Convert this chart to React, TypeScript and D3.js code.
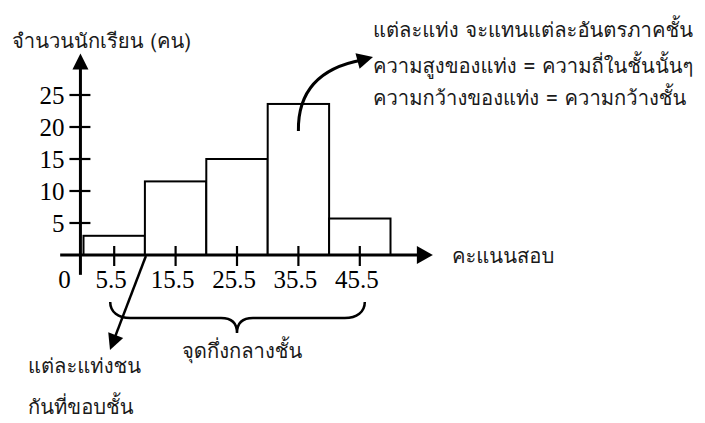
import React from 'react';
import * as d3 from 'd3';

const classLimits = [0.5, 10.5, 20.5, 30.5, 40.5, 50.5];
const frequencies = [3, 11.5, 15, 23.6, 5.7];
const midpoints = [5.5, 15.5, 25.5, 35.5, 45.5];
const yTicks = [5, 10, 15, 20, 25];
const yTitle = 'จำนวนนักเรียน (คน)';
const xTitle = 'คะแนนสอบ';
const notes = [
  'แต่ละแท่ง จะแทนแต่ละอันตรภาคชั้น',
  'ความสูงของแท่ง = ความถี่ในชั้นนั้นๆ',
  'ความกว้างของแท่ง = ความกว้างชั้น',
];
const midLabel = 'จุดกึ่งกลางชั้น';
const boundaryNote = ['แต่ละแท่งชน', 'กันที่ขอบชั้น'];

const W = 705;
const H = 423;
const THAI = "Loma, Tahoma, 'Noto Sans Thai', Garuda, sans-serif";
const SERIF = "'Liberation Serif', 'Times New Roman', serif";
const THAI_SIZE = 20.2;

function arrowHead(tipX: number, tipY: number, fromX: number, fromY: number, len: number, half: number) {
  const dx = tipX - fromX;
  const dy = tipY - fromY;
  const d = Math.sqrt(dx * dx + dy * dy);
  const ux = dx / d;
  const uy = dy / d;
  const bx = tipX - ux * len;
  const by = tipY - uy * len;
  const px = -uy;
  const py = ux;
  return `M${tipX},${tipY}L${bx + px * half},${by + py * half}L${bx - px * half},${by - py * half}Z`;
}

export default function App() {
  const x = d3.scaleLinear().domain([0.5, 50.5]).range([83.5, 390.5]);
  const y = d3.scaleLinear().domain([0, 25]).range([255, 95]);

  const axisX0 = x(0);
  const baseY = y(0);

  const bars = frequencies.map((f, i) => ({
    x0: x(classLimits[i]),
    x1: x(classLimits[i + 1]),
    y: y(f),
  }));

  const xAxisStart = x(-3.3);
  const xAxisTip = x(57.4);
  const yAxisBottom = y(-3.1);
  const yAxisTip = y(31.5);

  const bL = x(midpoints[0]) - 4;
  const bR = x(midpoints[midpoints.length - 1]) + 5;
  const bM = x(midpoints[2]);
  const bTop = 302;
  const bMid = 318;
  const bCusp = 333;
  const brace = d3.path();
  brace.moveTo(bL, bTop);
  brace.bezierCurveTo(bL, bMid - 6, bL + 8, bMid, bL + 20, bMid);
  brace.lineTo(bM - 16, bMid);
  brace.bezierCurveTo(bM - 5, bMid, bM, bMid + 5, bM, bCusp);
  brace.bezierCurveTo(bM, bMid + 5, bM + 5, bMid, bM + 16, bMid);
  brace.lineTo(bR - 20, bMid);
  brace.bezierCurveTo(bR - 8, bMid, bR, bMid - 6, bR, bTop);

  const baStartX = x(classLimits[1]) + 1;
  const baStartY = baseY + 1;
  const baTipX = 110;
  const baTipY = 350;

  const cStart: [number, number] = [x(35.5), 131];
  const cCtrl: [number, number] = [x(35.5) - 1, 72];
  const cEnd: [number, number] = [362, 60];
  const cTip: [number, number] = [373, 57];
  const curve = d3.path();
  curve.moveTo(cStart[0], cStart[1]);
  curve.quadraticCurveTo(cCtrl[0], cCtrl[1], cEnd[0], cEnd[1]);

  const thaiProps = { fontFamily: THAI, fontSize: THAI_SIZE, fontWeight: 300, fill: '#1a1a1a' };

  return (
    <svg width={W} height={H} style={{ position: 'absolute', left: 0, top: 0, background: '#fff' }}>
      <rect x={0} y={0} width={W} height={H} fill="#fff" />
      {bars.map((b, i) => (
        <rect
          key={i}
          x={b.x0}
          y={b.y}
          width={b.x1 - b.x0}
          height={baseY - b.y}
          fill="#fff"
          stroke="#000"
          strokeWidth={2}
        />
      ))}
      <line x1={xAxisStart} y1={baseY} x2={xAxisTip - 12} y2={baseY} stroke="#000" strokeWidth={3} />
      <path d={arrowHead(xAxisTip, baseY, xAxisStart, baseY, 16, 9)} fill="#000" />
      {midpoints.map((m, i) => (
        <line key={i} x1={x(m)} x2={x(m)} y1={baseY - 9} y2={baseY + 11} stroke="#000" strokeWidth={2.2} />
      ))}
      {midpoints.map((m, i) => (
        <text key={i} x={x(m) - 3} y={288} textAnchor="middle" fontFamily={SERIF} fontSize={25} fill="#000">
          {String(m)}
        </text>
      ))}
      <line x1={axisX0} y1={yAxisBottom} x2={axisX0} y2={yAxisTip + 12} stroke="#000" strokeWidth={3} />
      <path d={arrowHead(axisX0, yAxisTip, axisX0, yAxisBottom, 16, 8)} fill="#000" />
      {yTicks.map((t, i) => (
        <line key={i} x1={axisX0 - 11} x2={axisX0 + 10} y1={y(t)} y2={y(t)} stroke="#000" strokeWidth={2.2} />
      ))}
      {yTicks.map((t, i) => (
        <text key={i} x={axisX0 - 16} y={y(t) + 9} textAnchor="end" fontFamily={SERIF} fontSize={25} fill="#000">
          {String(t)}
        </text>
      ))}
      <text x={axisX0 - 16} y={288} textAnchor="middle" fontFamily={SERIF} fontSize={25} fill="#000">
        0
      </text>
      <text x={12} y={48} {...thaiProps}>
        {yTitle}
      </text>
      <text x={452} y={263} {...thaiProps}>
        {xTitle}
      </text>
      {notes.map((n, i) => (
        <text key={i} x={373} y={[37, 73, 105][i]} {...thaiProps}>
          {n}
        </text>
      ))}
      <path d={curve.toString()} fill="none" stroke="#000" strokeWidth={3} />
      <path d={arrowHead(cTip[0], cTip[1], cEnd[0] - 6, cEnd[1] + 1.5, 16, 8)} fill="#000" />
      <line
        x1={baStartX}
        y1={baStartY}
        x2={baTipX + (baStartX - baTipX) * 0.14}
        y2={baTipY + (baStartY - baTipY) * 0.14}
        stroke="#000"
        strokeWidth={2.5}
      />
      <path d={arrowHead(baTipX, baTipY, baStartX, baStartY, 16, 8)} fill="#000" />
      <path d={brace.toString()} fill="none" stroke="#000" strokeWidth={2.5} />
      <text x={182} y={358} {...thaiProps}>
        {midLabel}
      </text>
      {boundaryNote.map((t, i) => (
        <text key={i} x={28} y={[373, 414][i]} {...thaiProps}>
          {t}
        </text>
      ))}
    </svg>
  );
}
